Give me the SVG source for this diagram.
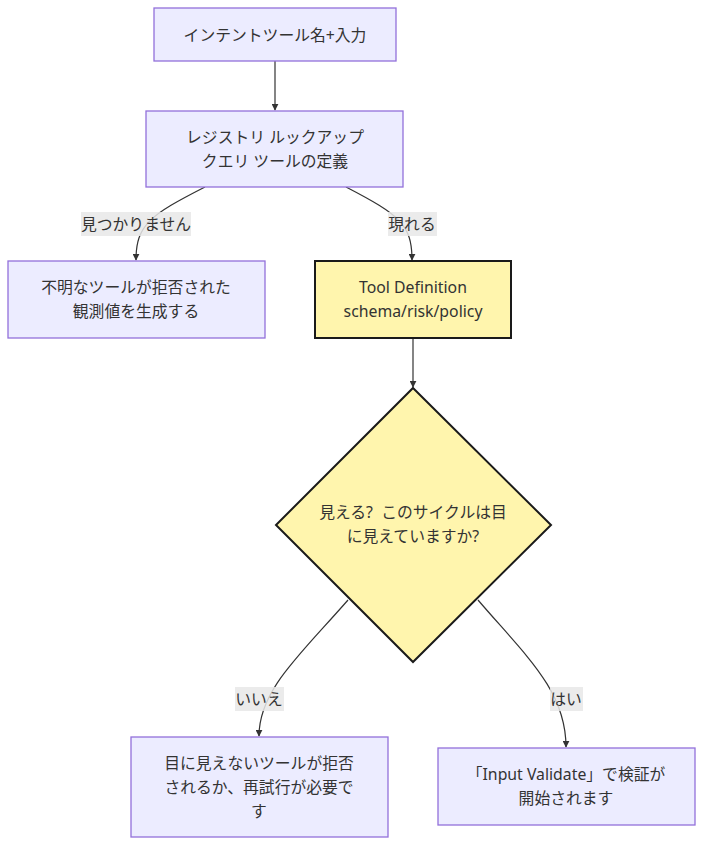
<svg xmlns="http://www.w3.org/2000/svg" width="711" height="854" viewBox="0 0 711 854">
<defs>
<style>
.n{fill:#ECECFF;stroke:#9370DB;stroke-width:1.3}
.y{fill:#FFF5AD;stroke:#1a1a1a;stroke-width:2}
.t{font-family:"Noto Sans","Noto Sans CJK JP",sans-serif;font-size:15.8px;fill:#333;text-anchor:middle;dominant-baseline:central}
.e{fill:none;stroke:#333;stroke-width:1.2;marker-end:url(#ah)}
.lb{fill:#e8e8e8;opacity:0.85}
</style>
<marker id="ah" viewBox="0 0 10 10" refX="9" refY="5" markerWidth="7" markerHeight="7" orient="auto" markerUnits="userSpaceOnUse">
<path d="M0,0 L10,5 L0,10 z" fill="#333"/>
</marker>
</defs>
<rect width="711" height="854" fill="#fff"/>
<g id="edges">
<path class="e" d="M275,61 L275,110"/>
<path class="e" d="M205,187 C150,215 136,225 136,260"/>
<path class="e" d="M346,187 C400,215 412,225 412,260"/>
<path class="e" d="M413,338 L413,387"/>
<path class="e" d="M348,600 C300,655 259,690 259,736"/>
<path class="e" d="M478,600 C525,655 566,690 566,747"/>
</g>
<g id="edge-labels">
<rect class="lb" x="81" y="212" width="110" height="24"/>
<text class="t" x="136" y="224">見つかりません</text>
<rect class="lb" x="388" y="212" width="49" height="24"/>
<text class="t" x="412" y="224">現れる</text>
<rect class="lb" x="235" y="687" width="49" height="24"/>
<text class="t" x="259" y="699">いいえ</text>
<rect class="lb" x="550" y="687" width="33" height="24"/>
<text class="t" x="566" y="699">はい</text>
</g>
<g id="intent">
<rect class="n" x="154" y="8" width="242" height="53"/>
<text class="t" x="275" y="34.5">インテントツール名+入力</text>
</g>
<g id="registry">
<rect class="n" x="146" y="111" width="257" height="76"/>
<text class="t" x="275" y="137">レジストリ ルックアップ</text>
<text class="t" x="275" y="161">クエリ ツールの定義</text>
</g>
<g id="unknown">
<rect class="n" x="8" y="261" width="257" height="77"/>
<text class="t" x="136" y="287">不明なツールが拒否された</text>
<text class="t" x="136" y="311">観測値を生成する</text>
</g>
<g id="tooldef">
<rect class="y" x="315" y="261" width="196" height="77"/>
<text class="t" x="413" y="287">Tool Definition</text>
<text class="t" x="413" y="311">schema/risk/policy</text>
</g>
<g id="visible">
<polygon class="y" points="413,388 551,525 413,662 276,525"/>
<text class="t" x="413" y="512" xml:space="preserve">見える?  このサイクルは目</text>
<text class="t" x="413" y="536">に見えていますか?</text>
</g>
<g id="invisible">
<rect class="n" x="131" y="737" width="257" height="100"/>
<text class="t" x="259" y="763">目に見えないツールが拒否</text>
<text class="t" x="259" y="787">されるか、再試行が必要で</text>
<text class="t" x="259" y="811">す</text>
</g>
<g id="validate">
<rect class="n" x="438" y="748" width="257" height="77"/>
<text class="t" x="566" y="774">「Input Validate」で検証が</text>
<text class="t" x="566" y="798">開始されます</text>
</g>
</svg>
